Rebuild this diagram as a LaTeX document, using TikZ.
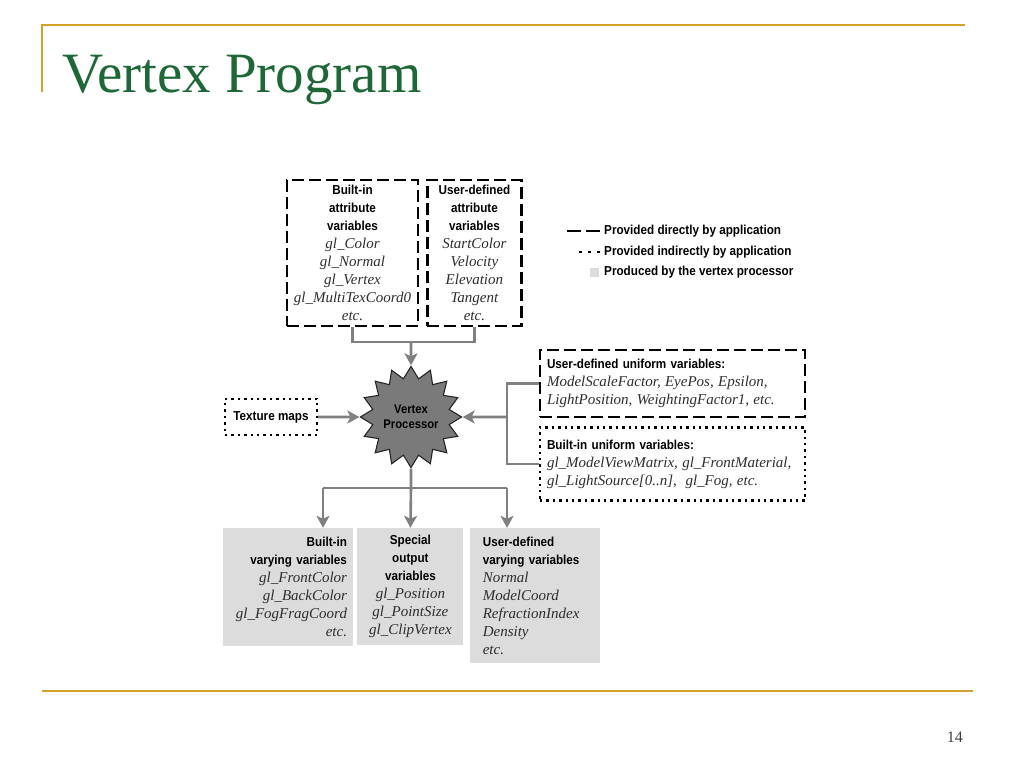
\documentclass[tikz,border=0pt]{standalone}
\usepackage{fontspec}
\setmainfont{Liberation Serif}
\newfontfamily\narrowsans[FakeStretch=0.9]{Liberation Sans}
\usetikzlibrary{positioning, arrows.meta, shapes.geometric}

\definecolor{titlegreen}{RGB}{30,104,56}
\definecolor{slidegold}{RGB}{212,162,40}
\definecolor{connectgray}{RGB}{128,128,128}
\definecolor{outgray}{RGB}{220,220,220}
\definecolor{stargray}{RGB}{122,122,122}
\definecolor{vargray}{RGB}{45,45,45}
\definecolor{pagegray}{RGB}{64,64,64}

\newcommand{\hdtext}[1]{{\narrowsans\bfseries #1}}
\newcommand{\vartext}[1]{{\fontsize{15}{18}\selectfont\itshape\color{vargray}#1}}

\begin{document}
\begin{tikzpicture}[
  x=1pt, y=-1pt,
  font=\fontsize{13}{18}\selectfont,
  dashbox/.style={draw, line width=2.4pt, dash pattern=on 12pt off 5pt, inner sep=2pt},
  dotbox/.style={draw, line width=2.4pt, dash pattern=on 2.4pt off 4pt, inner sep=2pt},
  outbox/.style={fill=outgray, inner ysep=0pt},
  legtext/.style={anchor=west, inner sep=0pt, font=\fontsize{13}{15}\selectfont\narrowsans\bfseries},
  conn/.style={draw=connectgray, line width=2.6pt},
  arrow/.style={conn, -{Stealth[length=12pt, width=13pt, inset=3pt]}}
]
\useasboundingbox (0,0) rectangle (1024,768);

% Slide frame
\draw[slidegold, line width=2pt] (42,92) -- (42,25) -- (965,25);
\draw[slidegold, line width=2pt] (42,691) -- (973,691);
\node[anchor=base west, inner sep=0pt, text=titlegreen, font=\fontsize{57}{60}\selectfont] (title) at (62,92) {Vertex Program};
\node[anchor=base east, inner sep=0pt, text=pagegray, font=\fontsize{16}{18}\selectfont] (pnum) at (963,742) {14};

% Nodes
\node[dashbox, align=center, minimum width=131pt, minimum height=146pt] (battr) at (352.5,253)
  {\hdtext{Built-in}\\\hdtext{attribute}\\\hdtext{variables}\\\vartext{gl\_Color}\\\vartext{gl\_Normal}\\\vartext{gl\_Vertex}\\\vartext{gl\_MultiTexCoord0}\\\vartext{etc.}};
\node[dashbox, align=center, minimum width=94pt, minimum height=146pt, right=7pt of battr] (uattr)
  {\hdtext{User-defined}\\\hdtext{attribute}\\\hdtext{variables}\\\vartext{StartColor}\\\vartext{Velocity}\\\vartext{Elevation}\\\vartext{Tangent}\\\vartext{etc.}};

\node[star, star points=16, star point ratio=1.3, minimum size=88pt, inner sep=0pt,
  fill=stargray, draw=black!85, line width=1.1pt, align=center,
  font=\fontsize{12.5}{15.5}\selectfont\narrowsans\bfseries] (vp) at (411,417) {Vertex\\Processor};

\node[dotbox, minimum width=92pt, minimum height=36pt] (tex) at (271,417) {\hdtext{Texture maps}};

\node[dashbox, align=left, text width=251pt, inner xsep=7pt, minimum height=67pt] (uuni) at (672.5,383.5)
  {\hdtext{User-defined uniform variables:}\\\vartext{ModelScaleFactor, EyePos, Epsilon,}\\\vartext{LightPosition, WeightingFactor1, etc.}};
\node[dotbox, align=left, text width=251pt, inner xsep=7pt, minimum height=73pt, below=8pt of uuni] (buni)
  {\hdtext{Built-in uniform variables:}\\\vartext{gl\_ModelViewMatrix, gl\_FrontMaterial,}\\\vartext{gl\_LightSource[0..n],\ \ gl\_Fog, etc.}};

\node[outbox, align=right, text width=118pt, inner xsep=6pt, minimum height=118pt] (outA) at (288,587)
  {\hdtext{Built-in}\\\hdtext{varying variables}\\\vartext{gl\_FrontColor}\\\vartext{gl\_BackColor}\\\vartext{gl\_FogFragCoord}\\\vartext{etc.}};
\node[outbox, align=center, text width=96pt, inner xsep=5pt, minimum height=117pt, right=4pt of outA.north east, anchor=north west] (outB)
  {\hdtext{Special}\\\hdtext{output}\\\hdtext{variables}\\\vartext{gl\_Position}\\\vartext{gl\_PointSize}\\\vartext{gl\_ClipVertex}};
\node[outbox, align=left, text width=104pt, inner xsep=13pt, minimum height=135pt, right=6pt of outB.north east, anchor=north west] (outC)
  {\hdtext{User-defined}\\\hdtext{varying variables}\\\vartext{Normal}\\\vartext{ModelCoord}\\\vartext{RefractionIndex}\\\vartext{Density}\\\vartext{etc.}};

% Legend
\node[legtext] (leg1) at (604,231) {Provided directly by application};
\node[legtext] (leg2) at (604,252) {Provided indirectly by application};
\node[legtext] (leg3) at (604,272) {Produced by the vertex processor};
\draw[line width=2pt, dash pattern=on 14pt off 5pt] ([xshift=-4pt]leg1.west) -- ++(-33,0);
\draw[line width=2pt, dash pattern=on 3pt off 6pt] ([xshift=-4pt]leg2.west) -- ++(-21,0);
\fill[outgray] ([xshift=-5pt, yshift=4.5pt]leg3.west) rectangle ++(-9,9);

% Lines
\coordinate (tj) at (411,342);
\coordinate (uj) at (507,417);
\coordinate (bj) at (411,488);
\coordinate (bl) at (323,488);
\coordinate (br) at (507,488);
\draw[conn] (battr.south) |- (tj) -| (uattr.south);
\draw[arrow] (tj) -- (vp.north);
\draw[arrow] (tex.east) -- (vp.west);
\draw[conn] (uuni.west) -| (uj) |- (buni.west);
\draw[arrow] (uj) -- (vp.east);
\draw[conn] (vp.south) -- (bj);
\draw[conn] (bl) -- (br);
\draw[arrow] (bl) -- (bl |- outA.north);
\draw[arrow] (bj) -- (outB.north);
\draw[arrow] (br) -- (br |- outC.north);

\end{tikzpicture}
\end{document}
